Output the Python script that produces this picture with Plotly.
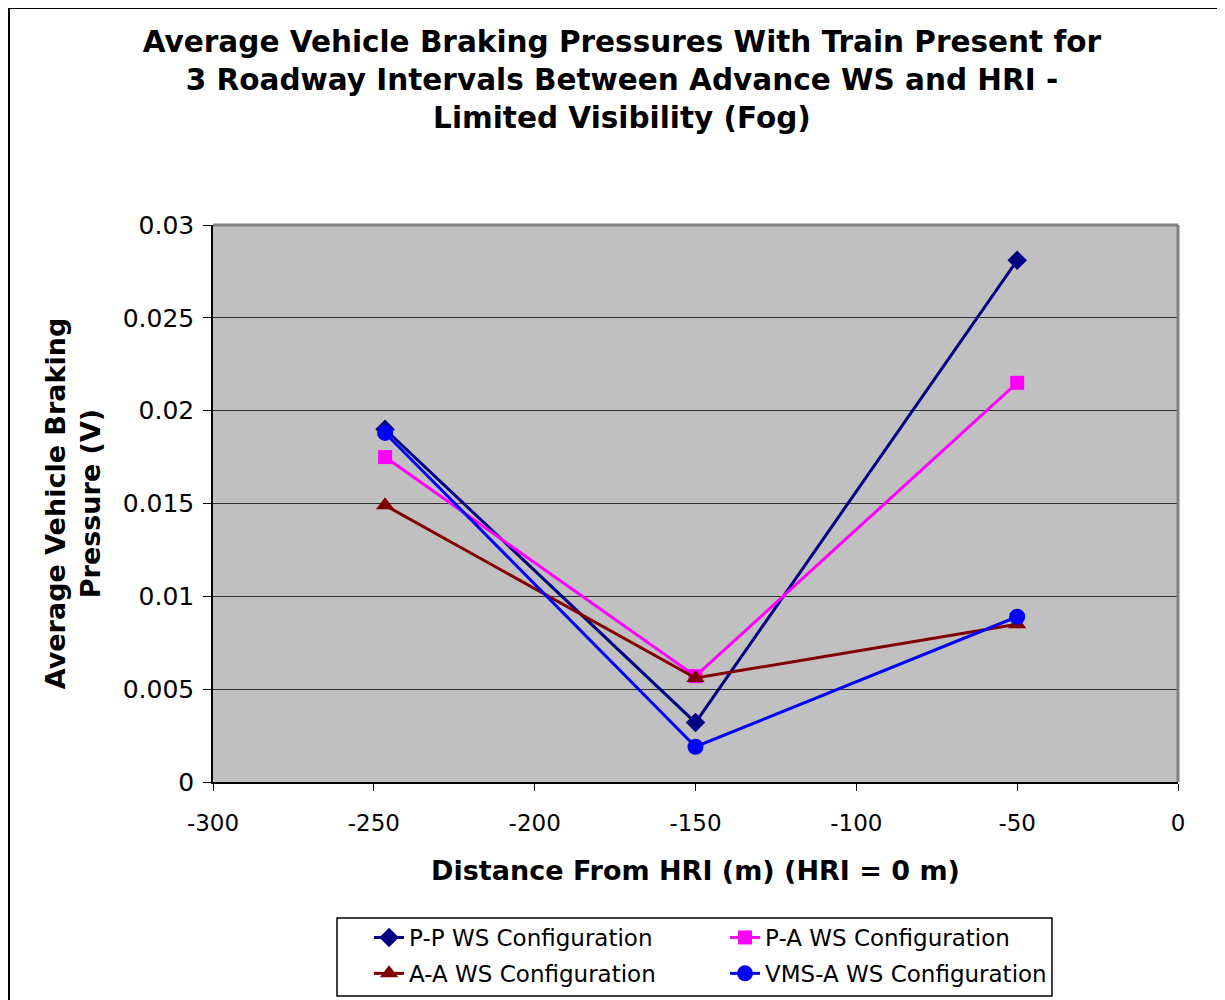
import plotly.graph_objects as go

# distances from HRI (m)
distance = [-246.5, -150, -50]

# average braking pressures (V)
pp_ws = [0.0190, 0.0032, 0.0281]
pa_ws = [0.0175, 0.0057, 0.0215]
aa_ws = [0.0149, 0.0056, 0.0085]
vms_ws = [0.0188, 0.0019, 0.0089]

x_ticks = [-300, -250, -200, -150, -100, -50, 0]
x_labels = ["-300", "-250", "-200", "-150", "-100", "-50", "0"]

series = [
    ("P-P WS Configuration", pp_ws, "#000080", "diamond", 15, "legend"),
    ("P-A WS Configuration", pa_ws, "#FF00FF", "square", 14, "legend2"),
    ("A-A WS Configuration", aa_ws, "#800000", "triangle-up", 16, "legend"),
    ("VMS-A WS Configuration", vms_ws, "#0000FF", "circle", 16, "legend2"),
]

fig = go.Figure()
for name, vals, color, symbol, size, leg in series:
    fig.add_trace(go.Scatter(x=distance, y=vals, name=name, mode="lines+markers",
                             legend=leg, legendgroup=name,
                             line=dict(color=color, width=3),
                             marker=dict(symbol=symbol, size=size, color=color)))

font = "DejaVu Sans, Verdana, sans-serif"
# two legend columns, framed by a shape below
leg_style = dict(orientation="v", yanchor="top", y=-0.2406, xanchor="left",
                 bgcolor="rgba(0,0,0,0)", borderwidth=0, tracegroupgap=3,
                 font=dict(size=23, family=font))

fig.update_layout(
    width=1217, height=1010,
    margin=dict(l=205, r=47, t=217, b=236),
    paper_bgcolor="white", plot_bgcolor="#C0C0C0",
    font=dict(family=font, color="black"),
    title=dict(text="<b>Average Vehicle Braking Pressures With Train Present for<br>"
                    "3 Roadway Intervals Between Advance WS and HRI -<br>"
                    "Limited Visibility (Fog)</b>",
               x=0.5045, xanchor="center", y=0.9567, yanchor="top",
               font=dict(size=29.5, family=font)),
    legend=dict(x=0.1617, **leg_style),
    legend2=dict(x=0.5306, **leg_style),
)

fig.update_xaxes(range=[-300, 0], tickvals=x_ticks, ticktext=x_labels,
                 tickfont=dict(size=23), ticklabelstandoff=13,
                 showline=True, linecolor="black", linewidth=1.5,
                 ticks="outside", ticklen=7, tickcolor="black", showgrid=False,
                 zeroline=False,
                 title=dict(text="<b>Distance From HRI (m) (HRI = 0 m)</b>",
                            font=dict(size=27), standoff=26))
fig.update_yaxes(range=[0, 0.03], dtick=0.005, tickfont=dict(size=25),
                 tickformat="~g", ticklabelstandoff=4,
                 showline=True, linecolor="black", linewidth=1.5,
                 ticks="outside", ticklen=8, tickcolor="black",
                 showgrid=True, gridcolor="#303030", gridwidth=1, zeroline=False,
                 title=dict(text="<b>Average Vehicle Braking<br>Pressure (V)</b>",
                            font=dict(size=27), standoff=14))

# grey frame on the top and right of plot area
fig.add_shape(type="line", xref="paper", yref="paper", x0=0, x1=1, y0=1, y1=1,
              line=dict(color="#808080", width=3))
fig.add_shape(type="line", xref="paper", yref="paper", x0=1, x1=1, y0=0, y1=1,
              line=dict(color="#808080", width=3))
# legend box
fig.add_shape(type="rect", xref="paper", yref="paper",
              x0=0.1285, x1=0.8694, y0=-0.3842, y1=-0.2442,
              line=dict(color="black", width=1.5), fillcolor="rgba(0,0,0,0)")
# outer chart border
fig.add_shape(type="rect", xref="paper", yref="paper",
              x0=-204 / 965, x1=1.2, y0=-1.0, y1=(782 - 8) / 557,
              line=dict(color="black", width=2))

fig.write_html("out.html")
